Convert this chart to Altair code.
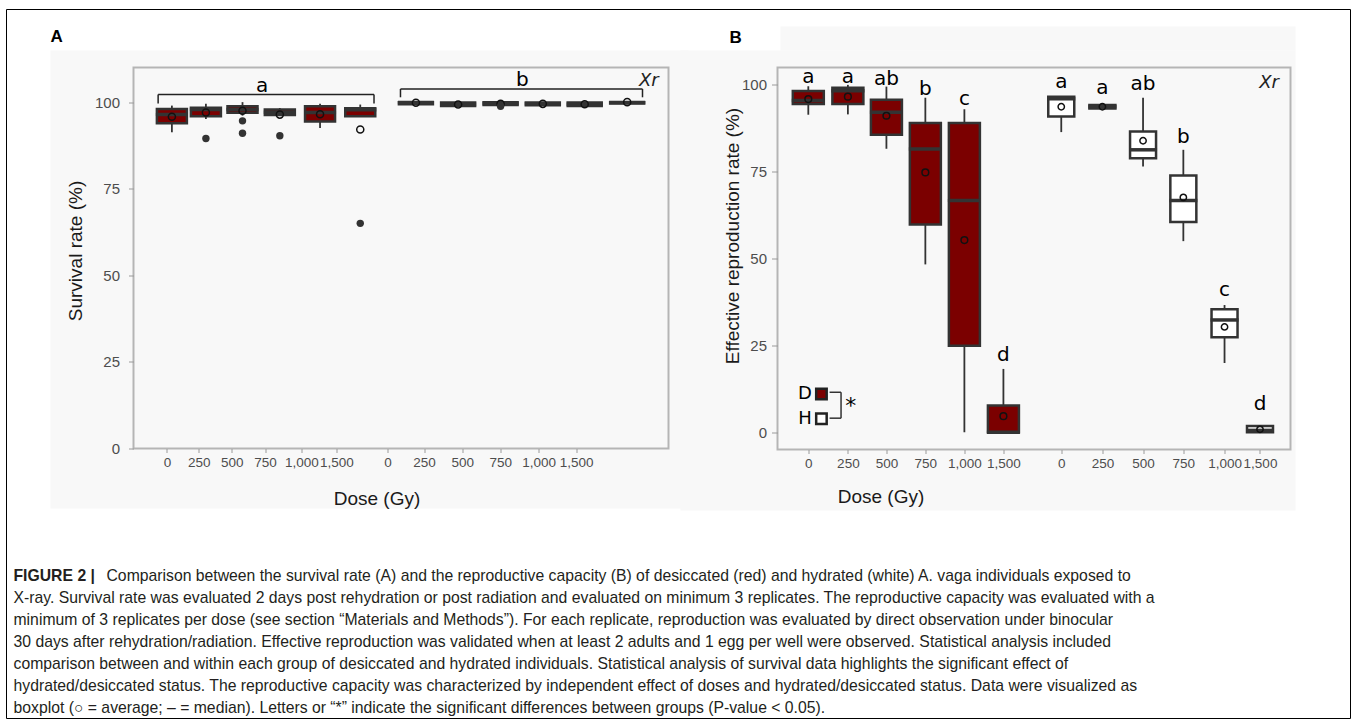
import altair as alt
import pandas as pd

RED = "#7b0000"
DARK = "#333333"
FRAME = "#b5b5b5"
BG = "#f8f8f8"
TXT_FONT = "Liberation Sans"
TICK_FONT = "Liberation Sans"
LET_FONT = "DejaVu Sans"

dose_labels = ["0", "250", "500", "750", "1,000", "1,500"]
letters = ["a", "a", "ab", "b", "c", "d"]

# ---------------- Panel A (survival) ----------------
a_pos_d = [6.36, 12.84, 19.81, 26.92, 34.58, 42.24]
a_pos_h = [52.84, 60.88, 68.97, 77.01, 84.99, 93.08]
a_ticks = [5.42, 11.46, 17.76, 24.11, 31.03, 37.70, 47.42, 54.39, 61.68, 68.92, 76.21, 83.36]

a_d_lo = [91.3, 95.1, 96.1, 96.3, 92.5, 95.9]
a_d_q1 = [93.9, 95.9, 96.9, 96.3, 94.4, 95.9]
a_d_med = [96.4, 97.9, 97.9, 97.1, 97.0, 97.8]
a_d_q3 = [98.0, 98.4, 98.8, 97.9, 98.8, 98.2]
a_d_hi = [99.0, 99.5, 100.0, 98.3, 99.5, 99.3]
a_d_mean = [95.8, 97.0, 97.5, 96.4, 96.5, 92.1]

a_h_lo = [99.4, 98.9, 99.2, 99.1, 98.9, 99.6]
a_h_q1 = [99.4, 98.9, 99.2, 99.1, 98.9, 99.6]
a_h_med = [99.9, 99.4, 99.6, 99.5, 99.4, 99.9]
a_h_q3 = [100.0, 99.9, 100.0, 99.9, 99.9, 100.0]
a_h_hi = [100.0, 99.9, 100.0, 99.9, 99.9, 100.0]
a_h_mean = [99.8, 99.3, 99.5, 99.5, 99.4, 100.0]

a_out_x = [12.84, 19.81, 19.81, 26.92, 42.24, 68.97]
a_out_y = [89.5, 94.6, 91.0, 90.3, 65.0, 98.8]

a_group_letters = ["a", "b"]
a_group_x = [23.55, 73.1]
a_group_y = [102.8, 104.8]
a_bracket_x1 = [3.74, 49.9]
a_bracket_x2 = [44.86, 96.0]
a_bracket_top = [102.2, 103.8]
a_bracket_bottom = [99.6, 101.4]

# ---------------- Panel B (reproduction) ----------------
b_pos_d = [5.13, 13.0, 20.66, 28.4, 36.16, 43.92]
b_pos_h = [55.42, 63.6, 71.68, 79.69, 87.88, 94.93]

b_d_lo = [91.4, 91.5, 81.6, 48.3, 0.0, 0.0]
b_d_q1 = [94.5, 94.5, 85.6, 59.8, 24.9, 0.0]
b_d_med = [95.5, 98.3, 92.1, 81.5, 66.7, 0.0]
b_d_q3 = [98.2, 99.2, 95.7, 89.0, 89.0, 7.7]
b_d_hi = [99.6, 100.0, 99.5, 96.3, 93.0, 18.2]
b_d_mean = [95.9, 96.6, 91.1, 74.8, 55.3, 4.6]

b_h_lo = [86.4, 93.2, 76.5, 55.0, 19.9, 0.0]
b_h_q1 = [90.9, 93.2, 78.9, 60.5, 27.3, 0.0]
b_h_med = [96.0, 93.7, 81.3, 66.7, 32.3, 0.5]
b_h_q3 = [96.6, 94.2, 86.6, 73.9, 35.4, 1.8]
b_h_hi = [96.6, 94.2, 96.3, 81.3, 36.6, 1.8]
b_h_mean = [93.7, 93.7, 83.9, 67.6, 30.3, 0.8]

b_d_letter_y = [100.4, 100.4, 100.1, 97.1, 94.2, 20.6]
b_h_letter_y = [99.0, 97.3, 98.5, 83.2, 39.2, 6.4]

legend_labels = ["D", "H"]
legend_label_x = [4.48, 4.48]
legend_square_x = [7.74, 7.74]
legend_y = [11.0, 3.85]
legend_fill = [RED, "white"]
legend_bracket_x1 = 9.36
legend_bracket_x2 = 11.64
legend_bracket_top = 11.48
legend_bracket_bottom = 4.02
legend_star = ("*", 13.59, 7.66)

caption_bold = "FIGURE 2 |"
caption_line1 = ("Comparison between the survival rate (A) and the reproductive capacity (B) of "
                 "desiccated (red) and hydrated (white) A. vaga individuals exposed to")
caption_lines = [
    "X-ray. Survival rate was evaluated 2 days post rehydration or post radiation and evaluated on minimum 3 replicates. The reproductive capacity was evaluated with a",
    "minimum of 3 replicates per dose (see section \u201cMaterials and Methods\u201d). For each replicate, reproduction was evaluated by direct observation under binocular",
    "30 days after rehydration/radiation. Effective reproduction was validated when at least 2 adults and 1 egg per well were observed. Statistical analysis included",
    "comparison between and within each group of desiccated and hydrated individuals. Statistical analysis of survival data highlights the significant effect of",
    "hydrated/desiccated status. The reproductive capacity was characterized by independent effect of doses and hydrated/desiccated status. Data were visualized as",
    "boxplot (\u25cb = average; \u2013 = median). Letters or \u201c*\u201d indicate the significant differences between groups (P-value < 0.05).",
]

A_W, A_H = 535, 381
B_W, B_H = 513, 382
CAP_SIZE = 15.75

one = pd.DataFrame({"k": [0]})


def label_expr(labels, values):
    return ("[" + ",".join(f"'{l}'" for l in labels) + "][indexof(["
            + ",".join(str(v) for v in values) + "], datum.value)]")


def x_axis(values, labels, title_x, title_y):
    return alt.Axis(title="Dose (Gy)", values=values, labelExpr=label_expr(labels, values),
                    grid=False, domain=False, ticks=True, tickColor="#9a9a9a", tickSize=4,
                    tickWidth=1, labelColor="#4d4d4d", labelFont=TICK_FONT, labelFontSize=13.5,
                    labelPadding=3, labelOverlap=False, labelFlush=False,
                    titleFont=TXT_FONT, titleFontSize=19, titleFontWeight="normal",
                    titleColor="#1a1a1a", titleX=title_x, titleY=title_y,
                    titleAlign="center", titleBaseline="middle", zindex=2)


def y_axis(title, title_x, title_y, tick_size, pad):
    return alt.Axis(title=title, values=[0, 25, 50, 75, 100], grid=False, domain=False,
                    tickColor="#9a9a9a", tickSize=tick_size, tickWidth=1,
                    labelColor="#4d4d4d", labelFont=TICK_FONT, labelFontSize=15,
                    labelPadding=pad, titleFont=TXT_FONT, titleFontSize=19,
                    titleFontWeight="normal", titleColor="#1a1a1a", titleX=title_x,
                    titleY=title_y, titleAngle=-90, titleAlign="center",
                    titleBaseline="middle", zindex=2)


def boxes(pos, lo, q1, med, q3, hi, mean, enc, fill, width, mean_size):
    df = pd.DataFrame({"pos": pos, "lo": lo, "q1": q1, "med": med, "q3": q3,
                       "hi": hi, "mean": mean})
    X, Y = enc
    base = alt.Chart(df)
    whisk = base.mark_rule(color=DARK, strokeWidth=1.8).encode(
        x=X("pos"), y=Y("lo"), y2=alt.Y2("hi:Q"))
    box = base.mark_bar(orient="vertical", size=width, fill=fill, stroke=DARK,
                        strokeWidth=2.5).encode(x=X("pos"), y=Y("q1"), y2=alt.Y2("q3:Q"))
    medt = base.mark_tick(orient="horizontal", size=width + 2, thickness=3.5,
                          color=DARK, opacity=1).encode(x=X("pos"), y=Y("med"))
    mn = base.mark_point(shape="circle", filled=False, stroke="#111111", strokeWidth=1.5,
                         size=mean_size, opacity=1).encode(x=X("pos"), y=Y("mean"))
    return [whisk, box, medt, mn]


def enc_factory(xs, ys, xa, ya):
    def X(f):
        return alt.X(f"{f}:Q", scale=xs, axis=xa)

    def Y(f):
        return alt.Y(f"{f}:Q", scale=ys, axis=ya)
    return X, Y


def rect_deco(x, x2, y, y2, **kw):
    return alt.Chart(one).mark_rect(**kw).encode(
        x=alt.value(x), x2=alt.value(x2), y=alt.value(y), y2=alt.value(y2))


def text_deco(txt, x, y, **kw):
    return alt.Chart(one).mark_text(text=txt, **kw).encode(x=alt.value(x), y=alt.value(y))


# ---------------- build panel A ----------------
xsA = alt.Scale(domain=[0, 100], nice=False, zero=False)
ysA = alt.Scale(domain=[0, 110], nice=False, zero=False)
xaA = x_axis(a_ticks, dose_labels * 2, 243, 50)
yaA = y_axis("Survival rate (%)", -58.5, 183, 5, 9)
encA = enc_factory(xsA, ysA, xaA, yaA)
XA, YA = encA

layersA = [
    rect_deco(-83, 555, -17, 441, fill=BG, stroke="transparent"),
    rect_deco(-127, 1217, -58, 651, fillOpacity=0, stroke="black", strokeWidth=1),
    text_deco("A", -83, -26, align="left", baseline="alphabetic", font=TXT_FONT,
              fontSize=17, fontWeight="bold", color="black"),
    text_deco(caption_bold, -120, 513, align="left", baseline="alphabetic", font=TXT_FONT,
              fontSize=CAP_SIZE, fontWeight="bold", color="#231f20"),
    text_deco(caption_line1, -27, 513, align="left", baseline="alphabetic", font=TXT_FONT,
              fontSize=CAP_SIZE, color="#231f20"),
    text_deco(caption_lines, -120, 535, align="left", baseline="alphabetic", font=TXT_FONT,
              fontSize=CAP_SIZE, lineHeight=22, color="#231f20"),
    rect_deco(0, A_W, 0, A_H, fillOpacity=0, stroke=FRAME, strokeWidth=2),
]
layersA += boxes(a_pos_d, a_d_lo, a_d_q1, a_d_med, a_d_q3, a_d_hi, a_d_mean, encA, RED, 30, 50)
layersA += boxes(a_pos_h, a_h_lo, a_h_q1, a_h_med, a_h_q3, a_h_hi, a_h_mean, encA, "white", 34, 50)

outA = pd.DataFrame({"x": a_out_x, "y": a_out_y})
layersA.append(alt.Chart(outA).mark_circle(size=55, color=DARK, opacity=1).encode(
    x=XA("x"), y=YA("y")))

brA = pd.DataFrame({"x1": a_bracket_x1, "x2": a_bracket_x2, "top": a_bracket_top,
                    "bottom": a_bracket_bottom})
layersA.append(alt.Chart(brA).mark_rule(color="#222222", strokeWidth=1.5).encode(
    x=XA("x1"), x2=alt.X2("x2:Q"), y=YA("top")))
layersA.append(alt.Chart(brA).mark_rule(color="#222222", strokeWidth=1.5).encode(
    x=XA("x1"), y=YA("bottom"), y2=alt.Y2("top:Q")))
layersA.append(alt.Chart(brA).mark_rule(color="#222222", strokeWidth=1.5).encode(
    x=XA("x2"), y=YA("bottom"), y2=alt.Y2("top:Q")))

letA = pd.DataFrame({"x": a_group_x, "y": a_group_y, "t": a_group_letters})
layersA.append(alt.Chart(letA).mark_text(font=LET_FONT, fontSize=20, color="black",
                                         baseline="alphabetic", align="center").encode(
    x=XA("x"), y=YA("y"), text="t:N"))
xrA = pd.DataFrame({"x": [99.1], "y": [104.8], "t": ["Xr"]})
layersA.append(alt.Chart(xrA).mark_text(font=LET_FONT, fontSize=18, fontStyle="italic",
                                        color="#222222", baseline="alphabetic",
                                        align="right").encode(
    x=XA("x"), y=YA("y"), text="t:N"))

panelA = alt.layer(*layersA).properties(width=A_W, height=A_H)

# ---------------- build panel B ----------------
xsB = alt.Scale(domain=[0, 100], nice=False, zero=False)
ysB = alt.Scale(domain=[-5, 105], nice=False, zero=False)
b_ticks = b_pos_d + b_pos_h
xaB = x_axis(b_ticks, dose_labels * 2, 103, 47)
yaB = y_axis("Effective reproduction rate (%)", -45.3, 168, 6, 5)
encB = enc_factory(xsB, ysB, xaB, yaB)
XB, YB = encB

layersB = [
    rect_deco(-97, 518, -17, 443, fill=BG, stroke="transparent"),
    rect_deco(3, 518, -41, -17, fill=BG, stroke="transparent"),
    text_deco("B", -48, -25, align="left", baseline="alphabetic", font=TXT_FONT,
              fontSize=17, fontWeight="bold", color="black"),
    rect_deco(0, B_W, 0, B_H, fillOpacity=0, stroke=FRAME, strokeWidth=2),
]
layersB += boxes(b_pos_d, b_d_lo, b_d_q1, b_d_med, b_d_q3, b_d_hi, b_d_mean, encB, RED, 31, 45)
layersB += boxes(b_pos_h, b_h_lo, b_h_q1, b_h_med, b_h_q3, b_h_hi, b_h_mean, encB, "white", 26, 40)

letB = pd.DataFrame({"x": b_pos_d + b_pos_h, "y": b_d_letter_y + b_h_letter_y,
                     "t": letters + letters})
layersB.append(alt.Chart(letB).mark_text(font=LET_FONT, fontSize=20, color="black",
                                         baseline="alphabetic", align="center").encode(
    x=XB("x"), y=YB("y"), text="t:N"))
xrB = pd.DataFrame({"x": [98.7], "y": [99.0], "t": ["Xr"]})
layersB.append(alt.Chart(xrB).mark_text(font=LET_FONT, fontSize=18, fontStyle="italic",
                                        color="#222222", baseline="alphabetic",
                                        align="right").encode(
    x=XB("x"), y=YB("y"), text="t:N"))

legB = pd.DataFrame({"lx": legend_label_x, "sx": legend_square_x, "y": legend_y,
                     "t": legend_labels, "fill": legend_fill})
layersB.append(alt.Chart(legB).mark_text(font=LET_FONT, fontSize=18, color="black",
                                         baseline="middle", align="center").encode(
    x=XB("lx"), y=YB("y"), text="t:N"))
layersB.append(alt.Chart(legB).mark_point(shape="square", filled=True, size=110,
                                          stroke="#222222", strokeWidth=2.5,
                                          opacity=1).encode(
    x=XB("sx"), y=YB("y"), fill=alt.Fill("fill:N", scale=None)))
brB = pd.DataFrame({"x1": [legend_bracket_x1, legend_bracket_x1],
                    "x2": [legend_bracket_x2, legend_bracket_x2],
                    "y": [legend_bracket_top, legend_bracket_bottom]})
layersB.append(alt.Chart(brB).mark_rule(color="#333333", strokeWidth=1.5).encode(
    x=XB("x1"), x2=alt.X2("x2:Q"), y=YB("y")))
brBv = pd.DataFrame({"x": [legend_bracket_x2], "y1": [legend_bracket_bottom],
                     "y2": [legend_bracket_top]})
layersB.append(alt.Chart(brBv).mark_rule(color="#333333", strokeWidth=1.5).encode(
    x=XB("x"), y=YB("y1"), y2=alt.Y2("y2:Q")))
starB = pd.DataFrame({"x": [legend_star[1]], "y": [legend_star[2]], "t": [legend_star[0]]})
layersB.append(alt.Chart(starB).mark_text(font=LET_FONT, fontSize=22, color="black",
                                          baseline="middle", align="center").encode(
    x=XB("x"), y=YB("y"), text="t:N"))

panelB = alt.layer(*layersB).properties(width=B_W, height=B_H)

chart = alt.hconcat(panelA, panelB, spacing=109, bounds="flush").properties(
    padding={"left": 5.5, "top": 8.5, "right": 0, "bottom": 0},
    autosize=alt.AutoSizeParams(type="pad"),
    background="white",
).configure_view(stroke="transparent")

chart.save("out.html", embed_options={"renderer": "svg", "actions": False})
